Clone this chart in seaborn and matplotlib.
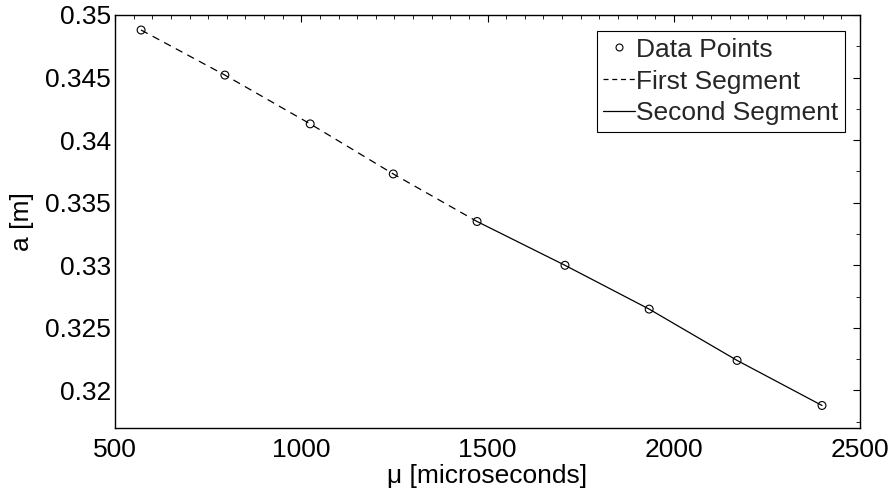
import matplotlib
matplotlib.use("Agg")
import matplotlib.pyplot as plt
import seaborn as sns
import pandas as pd
from matplotlib.ticker import MultipleLocator, FixedLocator
from matplotlib.lines import Line2D

mu = [570, 795, 1024, 1247, 1472, 1708, 1934, 2170, 2398]
a = [0.3488, 0.3452, 0.3413, 0.3373, 0.3335, 0.3300, 0.3265, 0.3224, 0.3188]
first_idx = [0, 1, 2, 3, 4]
second_idx = [4, 5, 6, 7, 8]
xticks = [500, 1000, 1500, 2000, 2500]
yticks = [0.32, 0.325, 0.33, 0.335, 0.34, 0.345, 0.35]
ytick_labels = ["0.32", "0.325", "0.33", "0.335", "0.34", "0.345", "0.35"]

sns.set_theme(style="white")
plt.rcParams['font.family'] = ['Liberation Sans', 'DejaVu Sans']

df = pd.DataFrame({"mu": mu, "a": a})
d1 = df.iloc[first_idx]
d2 = df.iloc[second_idx]

FS = 19

fig = plt.figure(figsize=(8.94, 4.91), dpi=100)
ax = fig.add_axes([115/894, 1 - 428/491, 745/894, 413/491])

sns.lineplot(data=d1, x="mu", y="a", ax=ax, color="black", lw=0.9,
             linestyle=(0, (6, 4.5)), sort=False)
sns.lineplot(data=d2, x="mu", y="a", ax=ax, color="black", lw=0.9, sort=False)
sns.scatterplot(data=df, x="mu", y="a", ax=ax, s=32, facecolor="none",
                edgecolor="black", linewidth=0.8, marker="o", zorder=3)

ax.set_xlim(500, 2500)
ax.set_ylim(0.317, 0.35)
ax.xaxis.set_major_locator(FixedLocator(xticks))
ax.xaxis.set_minor_locator(MultipleLocator(50))
ax.yaxis.set_major_locator(FixedLocator(yticks))
ax.set_yticklabels(ytick_labels)
ax.yaxis.set_minor_locator(MultipleLocator(0.0025))
ax.tick_params(which="both", direction="in", top=True, right=True,
               color="black", labelsize=FS, labelcolor="black")
ax.tick_params(which="major", length=5, width=0.8)
ax.tick_params(which="minor", length=2.8, width=0.6)
ax.tick_params(axis="x", which="major", pad=7)
ax.tick_params(axis="y", which="major", pad=3)
for s in ax.spines.values():
    s.set_color("black")
    s.set_linewidth(1.0)

ax.set_xlabel("\u03bc [microseconds]", fontsize=FS, color="black", labelpad=2)
ax.set_ylabel("a [m]", fontsize=FS, color="black", labelpad=8)

handles = [
    Line2D([], [], ls="none", marker="o", mfc="none", mec="black", ms=5, mew=0.8),
    Line2D([], [], color="black", lw=0.9, ls=(0, (4, 3))),
    Line2D([], [], color="black", lw=0.9),
]
leg = ax.legend(handles, ["Data Points", "First Segment", "Second Segment"],
                loc="upper right", bbox_to_anchor=(845/894, 1 - 31/491),
                bbox_transform=fig.transFigure, fontsize=FS, frameon=True,
                fancybox=False, edgecolor="black", framealpha=1,
                borderpad=0.25, labelspacing=0.3, handlelength=1.2,
                handletextpad=0.05, borderaxespad=0)
leg.get_frame().set_linewidth(0.8)

fig.savefig("out.png", dpi=100)
